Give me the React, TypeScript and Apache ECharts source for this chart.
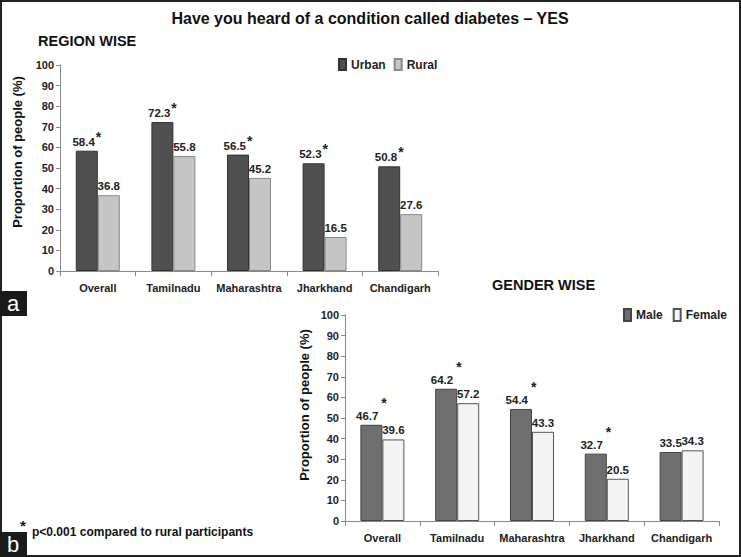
import React, { useEffect, useRef } from "react";
import * as echarts from "echarts";

const categories = ["Overall", "Tamilnadu", "Maharashtra", "Jharkhand", "Chandigarh"];
const urban = [58.4, 72.3, 56.5, 52.3, 50.8];
const rural = [36.8, 55.8, 45.2, 16.5, 27.6];
const urbanSig = [true, true, true, true, true];
const ruralSig = [false, false, false, false, false];
const male = [46.7, 64.2, 54.4, 32.7, 33.5];
const female = [39.6, 57.2, 43.3, 20.5, 34.3];
const maleSig = [true, true, true, true, false];
const femaleSig = [false, false, false, false, false];

const FONT = "Liberation Sans";

function labelFor(sig: boolean[]) {
  return (p: any) => {
    const v = Number(p.value).toFixed(1);
    return sig[p.dataIndex] ? `{v|${v}}{s|*}` : `{v|${v}}`;
  };
}

function richTop() {
  return {
    v: { fontSize: 11.5, fontWeight: "bold", color: "#222", fontFamily: FONT, lineHeight: 16, verticalAlign: "bottom" },
    s: { fontSize: 14, fontWeight: "bold", color: "#222", fontFamily: FONT, lineHeight: 18, verticalAlign: "top", padding: [0, 0, 0, 1] },
  };
}
function richBottom() {
  return {
    v: { fontSize: 11.5, fontWeight: "bold", color: "#222", fontFamily: FONT, lineHeight: 16, verticalAlign: "bottom" },
    s: { fontSize: 14, fontWeight: "bold", color: "#222", fontFamily: FONT, lineHeight: 26, verticalAlign: "top", padding: [0, 0, 0, 3] },
  };
}

export default function App() {
  const ref = useRef<HTMLDivElement>(null);
  useEffect(() => {
    document.body.style.margin = "0";
    const chart = echarts.init(ref.current!, null, { renderer: "svg" });
    const axisLabel = { fontSize: 11, fontWeight: "bold", color: "#222", fontFamily: FONT };
    const yAxisCommon = {
      type: "value",
      min: 0,
      max: 100,
      interval: 10,
      splitLine: { show: false },
      axisLine: { show: true, lineStyle: { color: "#888" } },
      axisTick: { show: true, length: 4, lineStyle: { color: "#888" } },
      axisLabel: { ...axisLabel, margin: 6 },
    };
    const xAxisCommon = {
      type: "category",
      data: categories,
      axisLine: { lineStyle: { color: "#888" } },
      axisTick: { show: true, length: 5, lineStyle: { color: "#888" } },
      axisLabel: { ...axisLabel, margin: 11, interval: 0 },
    };
    const legendText = { fontSize: 12, fontWeight: "bold", color: "#222", fontFamily: FONT };
    const option: any = {
      animation: false,
      backgroundColor: "#fff",
      textStyle: { fontFamily: FONT },
      grid: [
        { left: 60, top: 65, width: 378, height: 206 },
        { left: 345, top: 315, width: 374, height: 206 },
      ],
      xAxis: [
        { ...xAxisCommon, gridIndex: 0 },
        { ...xAxisCommon, gridIndex: 1 },
      ],
      yAxis: [
        { ...yAxisCommon, gridIndex: 0 },
        { ...yAxisCommon, gridIndex: 1 },
      ],
      legend: [
        {
          data: ["Urban", "Rural"],
          left: 338,
          top: 58,
          padding: 0,
          icon: "rect",
          itemWidth: 7,
          itemHeight: 11,
          itemGap: 8,
          textStyle: legendText,
        },
        {
          data: ["Male", "Female"],
          left: 623,
          top: 308,
          padding: 0,
          icon: "rect",
          itemWidth: 7,
          itemHeight: 12,
          itemGap: 10,
          textStyle: legendText,
        },
      ],
      series: [
        {
          name: "Urban",
          type: "bar",
          xAxisIndex: 0,
          yAxisIndex: 0,
          data: urban,
          barWidth: 22,
          barGap: "0%",
          itemStyle: { color: "#505050", borderColor: "#333", borderWidth: 1 },
          label: { show: true, position: "top", distance: 3, formatter: labelFor(urbanSig), rich: richTop() },
        },
        {
          name: "Rural",
          type: "bar",
          xAxisIndex: 0,
          yAxisIndex: 0,
          data: rural,
          barWidth: 22,
          barGap: "0%",
          itemStyle: { color: "#c6c6c6", borderColor: "#888", borderWidth: 1 },
          label: { show: true, position: "top", distance: 3, formatter: labelFor(ruralSig), rich: richTop() },
        },
        {
          name: "Male",
          type: "bar",
          xAxisIndex: 1,
          yAxisIndex: 1,
          data: male,
          barWidth: 22,
          barGap: "0%",
          itemStyle: { color: "#6f6f6f", borderColor: "#444", borderWidth: 1 },
          label: { show: true, position: "top", distance: 3, formatter: labelFor(maleSig), rich: richBottom() },
        },
        {
          name: "Female",
          type: "bar",
          xAxisIndex: 1,
          yAxisIndex: 1,
          data: female,
          barWidth: 22,
          barGap: "0%",
          itemStyle: { color: "#f4f4f4", borderColor: "#555", borderWidth: 1 },
          label: { show: true, position: "top", distance: 3, formatter: labelFor(femaleSig), rich: richBottom() },
        },
      ],
      graphic: [
        {
          type: "rect",
          shape: { x: 1, y: 1, width: 739, height: 555 },
          style: { fill: "none", stroke: "#222", lineWidth: 2 },
          silent: true,
        },
        {
          type: "text",
          x: 370,
          y: 18,
          style: {
            text: "Have you heard of a condition called diabetes \u2013 YES",
            fontSize: 16,
            fontWeight: "bold",
            fontFamily: FONT,
            fill: "#111",
            align: "center",
            verticalAlign: "middle",
          },
        },
        {
          type: "text",
          x: 38,
          y: 41,
          style: { text: "REGION WISE", fontSize: 14.5, fontWeight: "bold", fontFamily: FONT, fill: "#111", verticalAlign: "middle" },
        },
        {
          type: "text",
          x: 492,
          y: 285,
          style: { text: "GENDER WISE", fontSize: 14.5, fontWeight: "bold", fontFamily: FONT, fill: "#111", verticalAlign: "middle" },
        },
        {
          type: "text",
          x: 17,
          y: 152,
          rotation: Math.PI / 2,
          style: {
            text: "Proportion of people (%)",
            fontSize: 13,
            fontWeight: "bold",
            fontFamily: FONT,
            fill: "#111",
            align: "center",
            verticalAlign: "middle",
          },
        },
        {
          type: "text",
          x: 304,
          y: 405,
          rotation: Math.PI / 2,
          style: {
            text: "Proportion of people (%)",
            fontSize: 13,
            fontWeight: "bold",
            fontFamily: FONT,
            fill: "#111",
            align: "center",
            verticalAlign: "middle",
          },
        },
        {
          type: "rect",
          shape: { x: 0, y: 291, width: 27, height: 25 },
          style: { fill: "#1a1a1a" },
        },
        {
          type: "text",
          x: 13,
          y: 303,
          style: { text: "a", fontSize: 22, fontFamily: FONT, fill: "#fff", align: "center", verticalAlign: "middle" },
        },
        {
          type: "rect",
          shape: { x: 0, y: 532, width: 27, height: 25 },
          style: { fill: "#1a1a1a" },
        },
        {
          type: "text",
          x: 13,
          y: 544,
          style: { text: "b", fontSize: 22, fontFamily: FONT, fill: "#fff", align: "center", verticalAlign: "middle" },
        },
        {
          type: "text",
          x: 23,
          y: 525,
          style: { text: "*", fontSize: 15, fontWeight: "bold", fontFamily: FONT, fill: "#111", align: "center", verticalAlign: "middle" },
        },
        {
          type: "text",
          x: 32,
          y: 532,
          style: {
            text: "p<0.001 compared to rural participants",
            fontSize: 12,
            fontWeight: "bold",
            fontFamily: FONT,
            fill: "#111",
            verticalAlign: "middle",
          },
        },
      ],
    };
    chart.setOption(option);
    return () => chart.dispose();
  }, []);
  return <div ref={ref} style={{ width: 741, height: 557 }} />;
}
